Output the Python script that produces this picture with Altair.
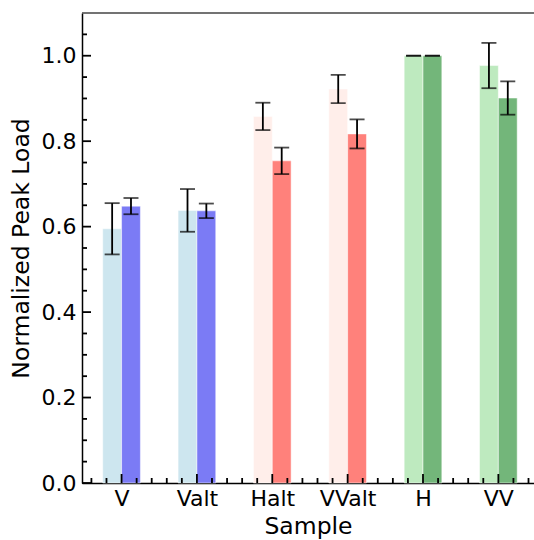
import altair as alt
import pandas as pd

categories = ["V", "Valt", "Halt", "VValt", "H", "VV"]
light_vals = [0.595, 0.638, 0.858, 0.922, 1.000, 0.977]
light_err = [0.060, 0.050, 0.032, 0.033, 0.000, 0.053]
dark_vals = [0.648, 0.637, 0.754, 0.817, 1.000, 0.901]
dark_err = [0.019, 0.017, 0.031, 0.034, 0.000, 0.039]
light_colors = ["#cde6ef", "#cde6ef", "#ffeeea", "#ffeeea", "#beeabf", "#beeabf"]
dark_colors = ["#7b7bf5", "#7b7bf5", "#ff817b", "#ff817b", "#73b67a", "#73b67a"]

y_major = [0.0, 0.2, 0.4, 0.6, 0.8, 1.0]
y_minor = [round(0.05 * k, 2) for k in range(1, 22) if k % 4 != 0]
x_major = list(range(len(categories)))
x_minor = [round(-0.4 + 0.2 * k, 2) for k in range(30)]
x_minor = [v for v in x_minor if abs(v - round(v)) > 1e-6]

rows = []
for i, c in enumerate(categories):
    rows.append(dict(sample=c, idx=i, series="light", value=light_vals[i], err=light_err[i], color=light_colors[i], side=-1))
    rows.append(dict(sample=c, idx=i, series="dark", value=dark_vals[i], err=dark_err[i], color=dark_colors[i], side=1))
df = pd.DataFrame(rows)

W, H = 452, 470
FONT = "DejaVu Sans"
xscale = alt.Scale(domain=[-0.525, 5.473], nice=False, zero=False)
yscale = alt.Scale(domain=[0, 1.1], nice=False, zero=False)

label_expr = "[" + ",".join("'%s'" % c for c in categories) + "][datum.value]"

base = alt.Chart(df).transform_calculate(
    center="datum.idx + datum.side * 0.125",
    x0="datum.idx + datum.side * 0.125 - 0.125",
    x1="datum.idx + datum.side * 0.125 + 0.125",
    lo="datum.value - datum.err",
    hi="datum.value + datum.err",
)

bars = base.mark_bar(stroke="white", strokeOpacity=0.5, strokeWidth=1).encode(
    x=alt.X("x0:Q", scale=xscale,
            axis=alt.Axis(values=x_major, labelExpr=label_expr, ticks=False, grid=False,
                          domainColor="black", domainWidth=1.5, labelFontSize=22,
                          labelColor="black", labelPadding=5, labelFont=FONT,
                          title="Sample", titleFont=FONT, titleFontSize=23.5,
                          titleFontWeight="normal", titleColor="black", titlePadding=5)),
    x2="x1:Q",
    y=alt.Y("value:Q", scale=yscale,
            axis=alt.Axis(values=y_major, format=".1f", ticks=False, grid=False,
                          domainColor="black", domainWidth=1.5, labelFontSize=22,
                          labelColor="black", labelPadding=6, labelFont=FONT,
                          title="Normalized Peak Load", titleFont=FONT, titleFontSize=23.5,
                          titleFontWeight="normal", titleColor="black", titlePadding=8)),
    y2=alt.datum(0),
    color=alt.Color("color:N", scale=None),
)

err_rule = base.mark_rule(color="black", strokeWidth=1.8).encode(
    x=alt.X("center:Q", scale=xscale), y=alt.Y("lo:Q", scale=yscale), y2="hi:Q"
)
cap_hi = base.mark_tick(orient="horizontal", color="black", thickness=1.8, size=15).encode(
    x=alt.X("center:Q", scale=xscale), y=alt.Y("hi:Q", scale=yscale)
)
cap_lo = base.mark_tick(orient="horizontal", color="black", thickness=1.8, size=15).encode(
    x=alt.X("center:Q", scale=xscale), y=alt.Y("lo:Q", scale=yscale)
)

ymaj = alt.Chart(pd.DataFrame({"v": y_major})).mark_rule(color="black", strokeWidth=1.8).encode(
    y=alt.Y("v:Q", scale=yscale), x=alt.value(0), x2=alt.value(9))
ymin = alt.Chart(pd.DataFrame({"v": y_minor})).mark_rule(color="black", strokeWidth=1.8).encode(
    y=alt.Y("v:Q", scale=yscale), x=alt.value(0), x2=alt.value(5))
xmaj = alt.Chart(pd.DataFrame({"v": x_major})).mark_rule(color="black", strokeWidth=1.8).encode(
    x=alt.X("v:Q", scale=xscale), y=alt.value(H), y2=alt.value(H - 9))
xmin = alt.Chart(pd.DataFrame({"v": x_minor})).mark_rule(color="black", strokeWidth=1.8).encode(
    x=alt.X("v:Q", scale=xscale), y=alt.value(H), y2=alt.value(H - 5))
top = alt.Chart(pd.DataFrame({"v": [1.1]})).mark_rule(color="#444444", strokeWidth=1.3).encode(
    y=alt.Y("v:Q", scale=yscale), x=alt.value(0), x2=alt.value(W))

chart = alt.layer(bars, err_rule, cap_hi, cap_lo, ymaj, ymin, xmaj, xmin, top).properties(
    width=W, height=H,
    autosize=alt.AutoSizeParams(type="none"),
    padding={"left": 82, "top": 13, "right": 0, "bottom": 57},
    background="white",
).configure_view(stroke="transparent", strokeWidth=0)

chart.save("out.html", embed_options={"renderer": "svg", "actions": False})
